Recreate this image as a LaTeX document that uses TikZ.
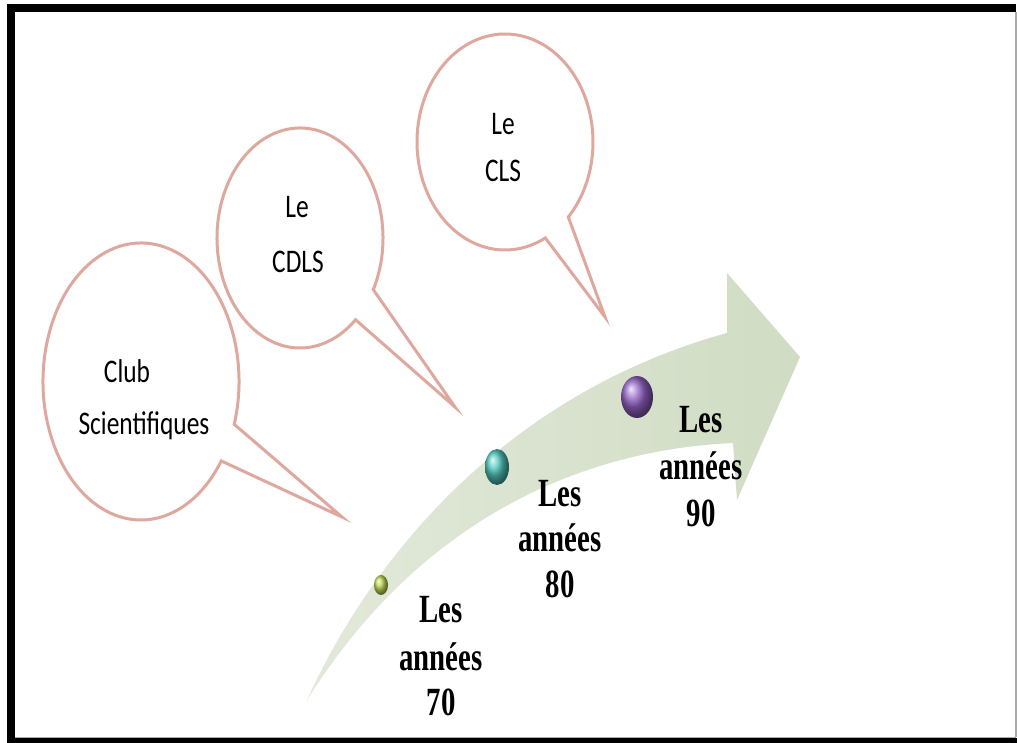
\documentclass[tikz,border=0pt]{standalone}
\usepackage{fontspec}
\newfontfamily\yearfont[FakeStretch=0.72]{Liberation Serif}
\newfontfamily\bubblefont[FakeStretch=0.77]{Carlito}
\usetikzlibrary{calc}

\definecolor{calloutrim}{RGB}{222,168,158}
\definecolor{arrowgreen}{RGB}{208,220,195}
\definecolor{arrowpale}{RGB}{226,233,218}
\definecolor{framegray}{RGB}{170,170,170}
\definecolor{ballgreen}{RGB}{190,215,80}
\definecolor{ballteal}{RGB}{80,200,190}
\definecolor{ballpurple}{RGB}{150,100,200}

\begin{document}
\begin{tikzpicture}[x=1pt,y=1pt,
  callout/.style={draw=calloutrim, line width=3pt, line join=miter},
  calloutword/.style={font=\bubblefont\fontsize{33}{40}\selectfont, anchor=base, inner sep=0pt},
  yearword/.style={font=\yearfont\bfseries\fontsize{40}{47}\selectfont, anchor=base, inner sep=0pt},
  timearrow/.style={left color=arrowpale, right color=arrowgreen},
]
\useasboundingbox (0,0) rectangle (1017,743);
\fill[white] (0,0) rectangle (1017,743);

% page frame
\fill[black] (7,0) rectangle (15,739);
\fill[black] (7,731) rectangle (1016,739);
\fill[black] (7,0) rectangle (1017,5);
\fill[framegray] (15,5) rectangle (1016,6);
\fill[framegray] (1015,6) rectangle (1016.5,731);

% callout centres and tail tips
\coordinate (c1) at (141,361.5);
\coordinate (t1) at (342,226);
\coordinate (c2) at (300,505);
\coordinate (t2) at (455,336);
\coordinate (c3) at (505,601);
\coordinate (t3) at (605,426);

% oval callouts
\draw[callout] ($(c1)+(-18:98 and 138.5)$)
  arc[start angle=-18, end angle=325, x radius=98, y radius=138.5] -- (t1) -- cycle;
\draw[callout] ($(c2)+(-28:83 and 110)$)
  arc[start angle=-28, end angle=312, x radius=83, y radius=110] -- (t2) -- cycle;
\draw[callout] ($(c3)+(-44:88 and 108)$)
  arc[start angle=-44, end angle=297.3, x radius=88, y radius=108] -- (t3) -- cycle;

% callout texts
\node[calloutword] (club) at (127,360) {Club};
\node[calloutword] (sci) at (144,308) {Scientifiques};
\node[calloutword] (le2) at (297,525) {Le};
\node[calloutword] (cdls) at (298,470) {CDLS};
\node[calloutword] (le3) at (503,608) {Le};
\node[calloutword] (cls) at (503,561) {CLS};

% curved timeline arrow
\coordinate (tail) at (307,43);
\coordinate (neckup) at (727,410);
\coordinate (headup) at (727,470);
\coordinate (tip) at (800,386);
\coordinate (headdown) at (737,243);
\coordinate (neckdown) at (733,300);
\shade[timearrow] (tail) .. controls (380,203) and (520,353) .. (neckup)
  -- (headup) -- (tip) -- (headdown) -- (neckdown)
  .. controls (580,293) and (420,223) .. (tail) -- cycle;

% milestone beads
\shade[ball color=ballgreen] (381,158) ellipse [x radius=7, y radius=10];
\shade[ball color=ballteal] (497,276) ellipse [x radius=12, y radius=18];
\shade[ball color=ballpurple] (637,346) ellipse [x radius=16, y radius=21];

% decade labels
\node[yearword] (a70) at (441,120) {Les};
\node[yearword] (b70) at (441,72) {années};
\node[yearword] (c70) at (441,27) {70};
\node[yearword] (a80) at (560,236) {Les};
\node[yearword] (b80) at (560,191) {années};
\node[yearword] (c80) at (560,145) {80};
\node[yearword] (a90) at (701,310) {Les};
\node[yearword] (b90) at (701,263) {années};
\node[yearword] (c90) at (701,216) {90};
\end{tikzpicture}
\end{document}
